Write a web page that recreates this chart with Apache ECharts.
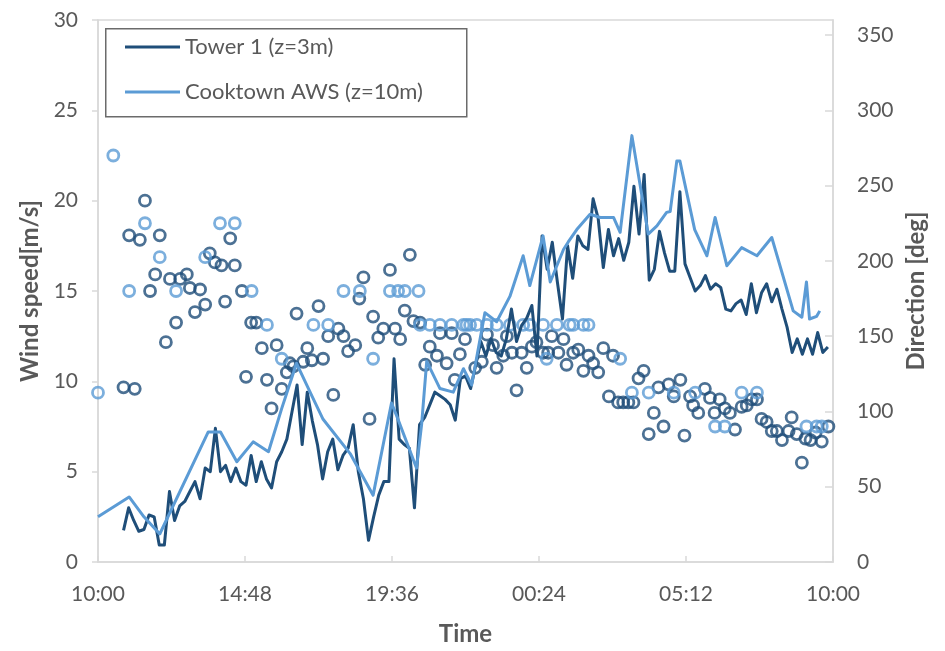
<!DOCTYPE html>
<html>
<head>
<meta charset="utf-8">
<script src="https://cdn.jsdelivr.net/npm/echarts@6.0.0/dist/echarts.min.js"></script>
<style>
  html, body { margin: 0; padding: 0; background: #ffffff; }
  #chart { width: 945px; height: 651px; }
</style>
</head>
<body>
<div id="chart"></div>
<script>
// Wind record over one day, starting 10:00. Times are minutes after 10:00.

// Tower 1 (z=3m): 10-minute wind speed, first sample 10:50
const towerStart = 50;
const towerStep = 10;
const towerSpeed = [
  1.75, 3.0, 2.3, 1.7, 1.8, 2.6, 2.5, 0.94, 0.94, 3.9,
  2.3, 3.1, 3.35, 3.9, 4.45, 3.5, 5.2, 5.0, 7.4, 5.0,
  5.35, 4.45, 5.2, 4.45, 4.25, 5.9, 4.45, 5.55, 4.6, 4.1,
  5.55, 6.1, 6.8, 8.3, 9.8, 6.5, 9.4, 7.8, 6.5, 4.6,
  6.1, 6.8, 5.1, 5.9, 6.3, 7.6, 5.0, 3.5, 1.2, 2.5,
  3.7, 4.45, 4.45, 11.25, 6.8, 6.5, 6.3, 3.0, 7.6, 8.0,
  8.7, 9.4, 9.2, 9.0, 8.7, 7.85, 10.15, 10.3, 9.6, 10.9,
  12.2, 11.4, 12.35, 11.6, 11.4, 12.35, 14.0, 12.2, 13.1, 13.5,
  14.2, 11.4, 18.05, 16.2, 17.7, 15.5, 13.45, 17.5, 15.7, 18.05,
  17.5, 17.3, 20.1, 19.0, 16.3, 18.4, 16.95, 17.9, 16.7, 17.7,
  20.8, 18.15, 21.45, 15.6, 16.2, 18.3, 17.1, 16.1, 16.1, 20.5,
  16.5, 15.75, 15.0, 15.3, 15.85, 15.1, 15.4, 15.2, 14.0, 13.9,
  14.3, 14.5, 13.7, 15.4, 13.8, 14.9, 15.4, 14.4, 15.1, 14.0,
  13.0, 11.6, 12.35, 11.5, 12.35, 11.5, 12.7, 11.6, 11.9
];

// Tower 1 wind direction [deg]
const towerDirTime = [
  50, 61, 72, 82, 92, 102, 112, 121, 133, 141, 153, 161, 174, 180, 190, 200, 210, 219, 229, 242,
  249, 259, 268, 282, 290, 300, 310, 321, 331, 340, 350, 360, 370, 376, 383, 389, 402, 410, 419, 432,
  441, 451, 461, 471, 481, 490, 504, 512, 520, 532, 539, 549, 559, 572, 582, 592, 601, 611, 618, 631,
  641, 650, 664, 670, 683, 693, 699, 709, 719, 739, 752, 762, 774, 781, 794, 801, 811, 820, 830, 840,
  850, 859, 872, 882, 889, 902, 912, 918, 931, 941, 951, 961, 970, 980, 990, 1001, 1009, 1019, 1029, 1039,
  1049, 1059, 1069, 1079, 1089, 1098, 1108, 1118, 1128, 1141, 1149, 1160, 1166, 1176, 1189, 1199, 1208, 1218, 1228, 1238,
  1248, 1261, 1271, 1281, 1291, 1300, 1310, 1320, 1330, 1340, 1353, 1359, 1369, 1379, 1386, 1396, 1406, 1418, 1431
];
const towerDir = [
  116, 217, 115, 214, 240, 180, 191, 217, 146, 188, 159, 188, 191, 182, 166, 181, 171, 205, 199, 197,
  173, 215, 197, 180, 123, 159, 159, 142, 121, 102, 144, 115, 126, 132, 130, 165, 133, 142, 134, 170,
  135, 150, 111, 155, 150, 140, 144, 175, 189, 95, 163, 149, 155, 194, 155, 148, 167, 204, 160, 159,
  131, 143, 137, 152, 132, 152, 121, 138, 148, 129, 133, 151, 144, 129, 137, 150, 139, 114, 139, 129,
  143, 146, 139, 139, 150, 139, 148, 131, 139, 141, 127, 137, 132, 126, 142, 110, 137, 106, 106, 106,
  106, 122, 127, 85, 99, 116, 90, 118, 110, 121, 84, 110, 104, 99, 115, 109, 99, 108, 102, 99,
  88, 103, 104, 108, 108, 95, 93, 87, 87, 81, 87, 96, 85, 66, 82, 81, 86, 80, 90
];

// Cooktown AWS (z=10m) wind speed [m/s]
const awsSpeedTime = [
  0, 61, 90, 121, 216, 240, 272, 304, 334, 360, 389, 419, 441, 494, 539, 575, 585, 624, 634, 644,
  670, 696, 716, 732, 758, 781, 807, 833, 846, 872, 886, 912, 921, 938, 964, 984, 1010, 1023, 1046, 1078,
  1095, 1114, 1121, 1134, 1140, 1169, 1193, 1209, 1232, 1261, 1291, 1320, 1362, 1379, 1388, 1394, 1408, 1414
];
const awsSpeed = [
  2.5, 3.6, 2.5, 1.55, 7.2, 7.2, 5.55, 6.65, 6.1, 8.5, 11.0, 9.2, 7.9, 6.0, 3.7, 8.8, 8.1, 5.2, 7.6, 11.1,
  9.6, 9.4, 10.7, 9.8, 13.8, 13.3, 14.7, 16.95, 15.3, 18.05, 15.5, 17.3, 17.7, 18.4, 19.25, 19.07, 19.07, 18.25, 23.6, 18.15,
  18.6, 19.35, 19.4, 22.2, 22.2, 18.4, 16.95, 19.07, 16.4, 17.4, 16.95, 17.96, 13.9, 13.55, 15.5, 13.45, 13.6, 13.9
];

// Cooktown AWS wind direction [deg]
const awsDirTime = [
  0, 30, 61, 92, 121, 153, 210, 239, 268, 301, 331, 360, 422, 451, 481, 513, 539, 572, 588, 601,
  628, 631, 650, 670, 693, 716, 722, 729, 742, 762, 781, 807, 833, 846, 872, 879, 899, 924, 931, 951,
  961, 1023, 1046, 1079, 1128, 1170, 1209, 1228, 1261, 1291, 1388, 1408, 1418
];
const awsDir = [
  112.5, 270, 180, 225, 202.5, 180, 202.5, 225, 225, 180, 157.5, 135, 157.5, 157.5, 180, 180, 135, 180, 180, 180,
  180, 157.5, 157.5, 157.5, 157.5, 157.5, 157.5, 157.5, 157.5, 157.5, 157.5, 157.5, 157.5, 157.5, 157.5, 135, 157.5, 157.5, 157.5, 157.5,
  157.5, 135, 112.5, 112.5, 112.5, 112.5, 90, 90, 112.5, 112.5, 90, 90, 90
];

// Axis ticks
const timeTickStep = 288;           // 4 h 48 min
const speedTicks = { min: 0, max: 30, step: 5 };
const dirTicks = { min: 0, max: 360, step: 50 };

const DARK = '#1F4E79';
const LIGHT = '#5B9BD5';
const GREY = '#595959';
const FRAME = '#d9d9d9';
const FONT = 'Lato, "Open Sans", sans-serif';

function clock(m) {
  const t = (600 + Math.round(m)) % 1440;
  const h = Math.floor(t / 60), mm = t % 60;
  return String(h).padStart(2, '0') + ':' + String(mm).padStart(2, '0');
}

const towerLine = towerSpeed.map((v, i) => [towerStart + i * towerStep, v]);
const towerDirPts = towerDir.map((d, i) => [towerDirTime[i], d]);
const awsLine = awsSpeed.map((v, i) => [awsSpeedTime[i], v]);
const awsDirPts = awsDir.map((d, i) => [awsDirTime[i], d]);

const chart = echarts.init(document.getElementById('chart'), null, { renderer: 'canvas' });

chart.setOption({
  animation: false,
  backgroundColor: '#ffffff',
  textStyle: { fontFamily: FONT },
  grid: {
    left: 98, right: 112, top: 20, bottom: 87,
    show: true, borderColor: FRAME, borderWidth: 1.5, backgroundColor: 'transparent'
  },
  graphic: [{
    type: 'rect',
    left: 105, top: 28, z: 10,
    shape: { width: 361, height: 88 },
    style: { fill: '#ffffff', stroke: '#6b6b6b', lineWidth: 1.5 }
  }],
  legend: {
    data: ['Tower 1 (z=3m)', 'Cooktown AWS (z=10m)'],
    orient: 'vertical',
    left: 125, top: 34,
    z: 11,
    icon: 'rect',
    itemWidth: 55, itemHeight: 3,
    itemGap: 19,
    padding: 0,
    selectedMode: false,
    textStyle: { color: GREY, fontSize: 22, fontFamily: FONT, lineHeight: 26, padding: [0, 0, 0, 0] }
  },
  xAxis: {
    type: 'value',
    min: 0, max: 1440, interval: timeTickStep,
    name: 'Time', nameLocation: 'middle', nameGap: 60,
    nameTextStyle: { color: GREY, fontSize: 24, fontWeight: 'bold', fontFamily: FONT },
    axisLine: { show: true, lineStyle: { color: FRAME, width: 1.5 } },
    axisTick: { show: true, inside: true, length: 6, lineStyle: { color: FRAME, width: 1.5 } },
    axisLabel: { color: GREY, fontSize: 21, margin: 22, formatter: v => clock(v), fontFamily: FONT },
    splitLine: { show: false }
  },
  yAxis: [{
    type: 'value', position: 'left',
    min: speedTicks.min, max: speedTicks.max, interval: speedTicks.step,
    name: 'Wind speed[m/s]', nameLocation: 'middle', nameGap: 56, nameRotate: 90,
    nameTextStyle: { color: GREY, fontSize: 24, fontWeight: 'bold', fontFamily: FONT },
    axisLine: { show: true, lineStyle: { color: FRAME, width: 1.5 } },
    axisTick: { show: true, inside: false, length: 6, lineStyle: { color: FRAME, width: 1.5 } },
    axisLabel: { color: GREY, fontSize: 21, margin: 20, fontFamily: FONT },
    splitLine: { show: false }
  }, {
    type: 'value', position: 'right',
    min: dirTicks.min, max: dirTicks.max, interval: dirTicks.step,
    name: 'Direction [deg]', nameLocation: 'middle', nameGap: 50, nameRotate: 90,
    nameTextStyle: { color: GREY, fontSize: 24, fontWeight: 'bold', fontFamily: FONT },
    axisLine: { show: true, lineStyle: { color: FRAME, width: 1.5 } },
    axisTick: { show: true, inside: true, length: 8, lineStyle: { color: FRAME, width: 1.5 } },
    axisLabel: { color: GREY, fontSize: 21, margin: 24, showMaxLabel: false, fontFamily: FONT },
    splitLine: { show: false }
  }],
  series: [{
    name: 'Tower 1 dir',
    type: 'scatter', yAxisIndex: 1,
    data: towerDirPts,
    symbol: 'circle', symbolSize: 11,
    itemStyle: { color: 'rgba(0,0,0,0)', borderColor: DARK, borderWidth: 2.8 },
    emphasis: { disabled: true }, z: 2
  }, {
    name: 'AWS dir',
    type: 'scatter', yAxisIndex: 1,
    data: awsDirPts,
    symbol: 'circle', symbolSize: 11,
    itemStyle: { color: 'rgba(0,0,0,0)', borderColor: LIGHT, borderWidth: 2.8 },
    emphasis: { disabled: true }, z: 2
  }, {
    name: 'Tower 1 (z=3m)',
    type: 'line', yAxisIndex: 0,
    data: towerLine,
    showSymbol: false, symbol: 'none',
    lineStyle: { color: DARK, width: 3, join: 'round' },
    itemStyle: { color: DARK },
    emphasis: { disabled: true }, z: 3
  }, {
    name: 'Cooktown AWS (z=10m)',
    type: 'line', yAxisIndex: 0,
    data: awsLine,
    showSymbol: false, symbol: 'none',
    lineStyle: { color: LIGHT, width: 3, join: 'round' },
    itemStyle: { color: LIGHT },
    emphasis: { disabled: true }, z: 3
  }]
});
</script>
</body>
</html>
